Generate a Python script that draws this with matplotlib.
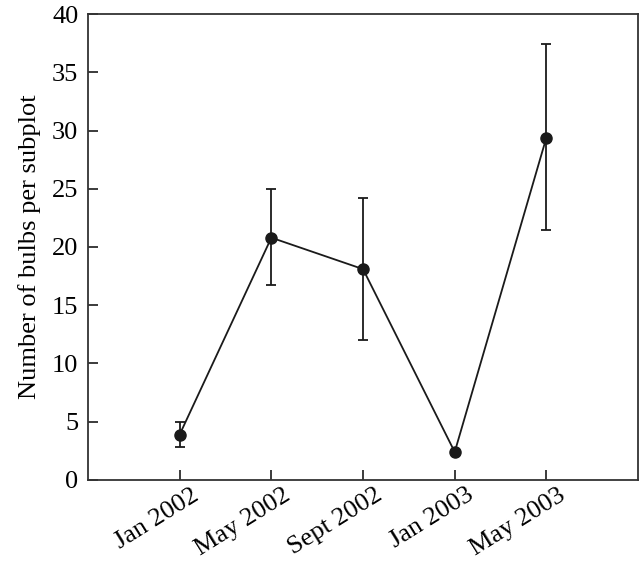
import matplotlib
matplotlib.use('Agg')
import matplotlib.pyplot as plt
import matplotlib.transforms as mtransforms
import numpy as np

matplotlib.rcParams['font.family'] = 'Liberation Serif'

dates = ["Jan 2002", "May 2002", "Sept 2002", "Jan 2003", "May 2003"]
mean_bulbs = [3.9, 20.8, 18.1, 2.4, 29.4]
err_upper = [5.0, 25.0, 24.2, 2.4, 37.4]
err_lower = [2.8, 16.7, 12.0, 2.4, 21.5]

x = np.arange(len(dates))
mean_arr = np.array(mean_bulbs)
yerr = [mean_arr - np.array(err_lower), np.array(err_upper) - mean_arr]

fig, ax = plt.subplots(figsize=(6.4, 5.62), dpi=100)
fig.subplots_adjust(left=0.1375, right=0.997, top=0.975, bottom=0.146)

ax.errorbar(x, mean_bulbs, yerr=yerr, fmt='o-', color='#1a1a1a', ecolor='#1a1a1a',
            markersize=8, linewidth=1.3, elinewidth=1.3, capsize=3.5, capthick=1.3)

ax.set_xlim(-1, 5)
ax.set_ylim(0, 40)
ax.set_yticks(np.arange(0, 41, 5))
ax.set_xticks(x)
ax.set_xticklabels(dates, rotation=32, ha='right', rotation_mode='anchor')
ax.tick_params(direction='in', length=7, width=1.2, labelsize=19, color='#1a1a1a')
ax.tick_params(axis='y', pad=7)
ax.tick_params(axis='x', pad=4)
# nudge the rotated date labels a little to the right
offset = mtransforms.ScaledTranslation(8 / 72, 1 / 72, fig.dpi_scale_trans)
for lbl in ax.get_xticklabels():
    lbl.set_transform(lbl.get_transform() + offset)
for s in ax.spines.values():
    s.set_linewidth(1.3)
    s.set_color('#333333')
ax.set_ylabel("Number of bulbs per subplot", fontsize=19, labelpad=8)

plt.savefig("out.png", dpi=100)
plt.close()
